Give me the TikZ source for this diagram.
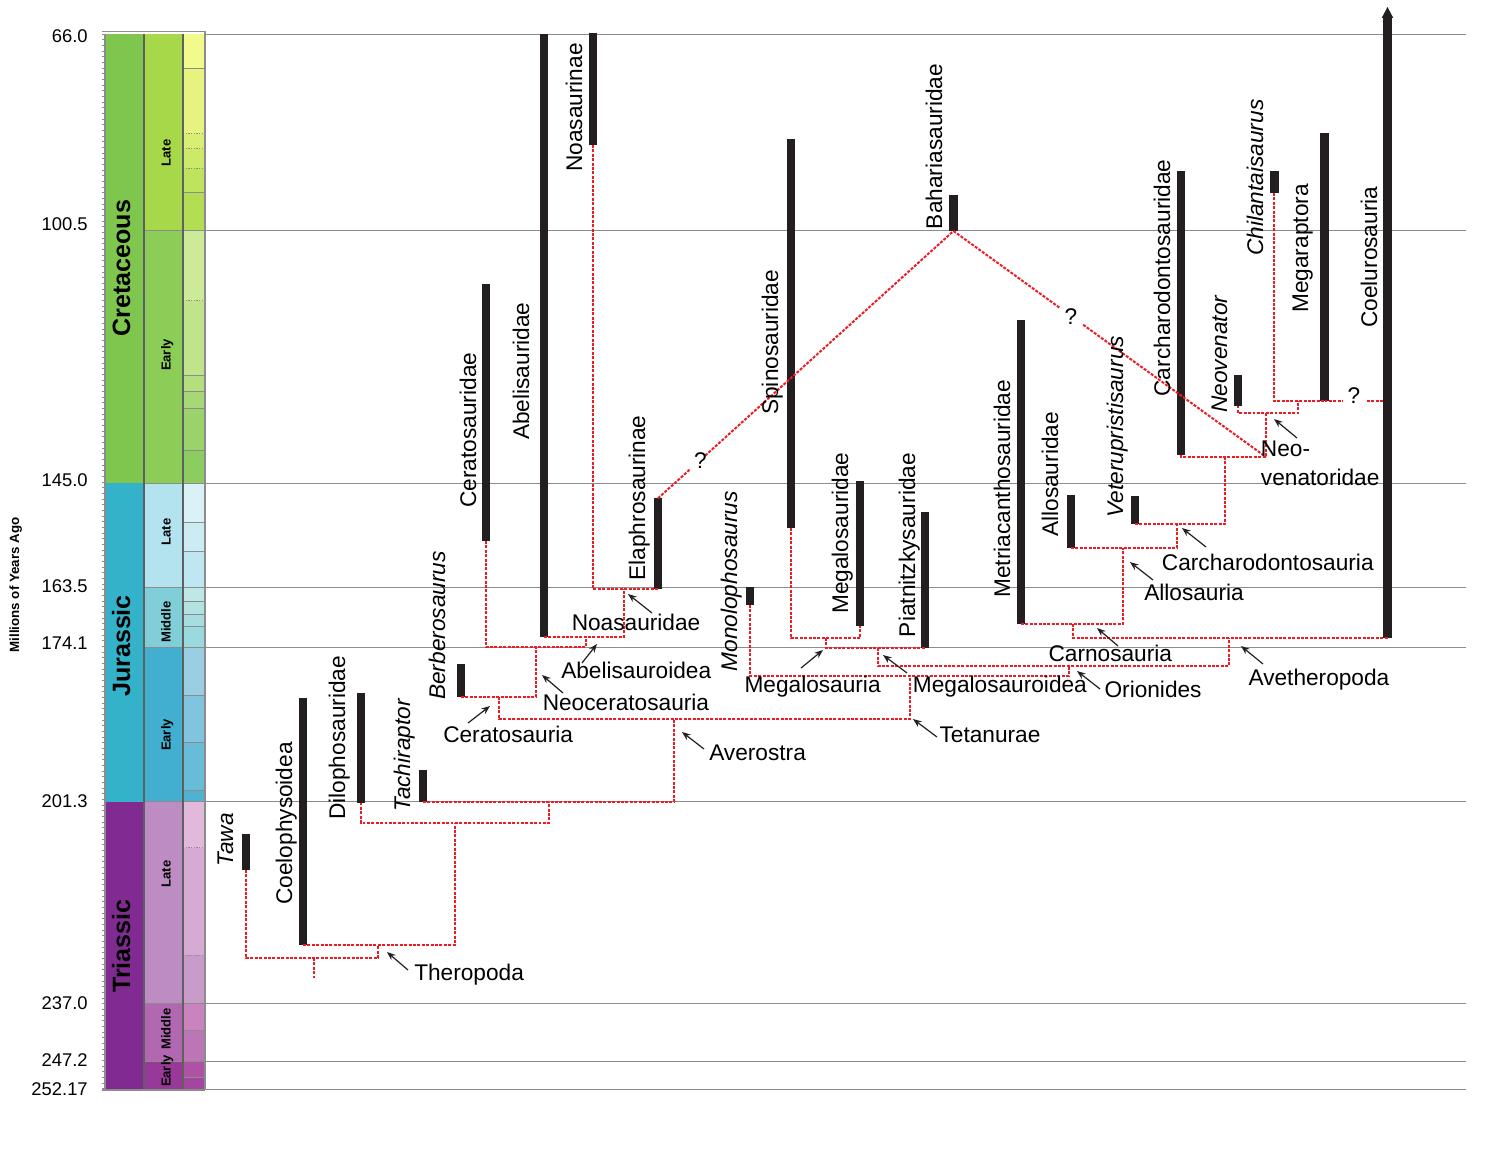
\documentclass[tikz,border=0pt]{standalone}
\usepackage{fontspec}
\setmainfont{Liberation Sans}
\usetikzlibrary{arrows.meta,calc}
\definecolor{barc}{HTML}{231F20}
\definecolor{treered}{HTML}{ED1C24}
\definecolor{gridc}{HTML}{8C8C8C}
\definecolor{sepc}{HTML}{5E5F61}
\definecolor{cret}{HTML}{7FC64E}
\definecolor{jur}{HTML}{34B2C9}
\definecolor{tri}{HTML}{812B92}
\definecolor{lK}{HTML}{A6D84A}
\definecolor{eK}{HTML}{8CCD57}
\definecolor{lJ}{HTML}{B3E3EE}
\definecolor{mJ}{HTML}{80CFD8}
\definecolor{eJ}{HTML}{42AED0}
\definecolor{lT}{HTML}{BD8CC3}
\definecolor{mT}{HTML}{B168B1}
\definecolor{eT}{HTML}{983999}
\newcommand\stagebox[3]{\definecolor{tmpstage}{HTML}{#3}\fill[tmpstage] (183,#1) rectangle (205,#2);}
\newcommand\taxbar[4]{\fill[barc] (#2-4.4,#3) rectangle (#2+4.4,#4);\coordinate (#1) at (#2,#4);\coordinate (#1-top) at (#2,#3);}
\begin{document}
\begin{tikzpicture}[x=0.75pt,y=-0.75pt,
  tree/.style={draw=treered, line width=1.5pt, dash pattern=on 2.2pt off 1.1pt},
  gridl/.style={draw=gridc, line width=0.75pt},
  stl/.style={draw=gridc, line width=0.6pt},
  stld/.style={draw=gridc, line width=0.6pt, dash pattern=on 1pt off 1pt},
  lab/.style={font=\fontsize{17}{20}\selectfont, inner sep=0pt, text=black},
  vlab/.style={lab, rotate=90, anchor=base west},
  hlab/.style={lab, anchor=base west},
  qlab/.style={lab, anchor=base},
  ptr/.style={draw=barc, line width=0.9pt, -{Stealth[length=6.5pt,width=5pt]}},
  num/.style={font=\fontsize{13.8}{16}\selectfont, inner sep=0pt, anchor=base east},
  period/.style={font=\bfseries\fontsize{18.8}{22}\selectfont, rotate=90, anchor=base, inner sep=0pt},
  epoch/.style={font=\bfseries\fontsize{9.8}{12}\selectfont, rotate=90, anchor=base, inner sep=0pt},
]
\fill[white] (0,0) rectangle (1511,1167);
\useasboundingbox (0,0) rectangle (1511,1167);

% ---------------- time scale ----------------
\fill[cret] (105,34) rectangle (144,483);
\fill[jur] (105,483) rectangle (144,801.5);
\fill[tri] (105,801.5) rectangle (144,1090);
\fill[lK] (144,34) rectangle (183,230);
\fill[eK] (144,230) rectangle (183,483);
\fill[lJ] (144,483) rectangle (183,587);
\fill[mJ] (144,587) rectangle (183,647.5);
\fill[eJ] (144,647.5) rectangle (183,801.5);
\fill[lT] (144,801.5) rectangle (183,1003.5);
\fill[mT] (144,1003.5) rectangle (183,1061);
\fill[eT] (144,1061) rectangle (183,1090);
\stagebox{34}{68.3}{F2FA8C}
\stagebox{68.3}{133.8}{E6F47F}
\stagebox{133.8}{148.5}{D9EF74}
\stagebox{148.5}{168.3}{CCE968}
\stagebox{168.3}{192.3}{BFE35D}
\stagebox{192.3}{230}{B3DE53}
\stagebox{230}{300.5}{CCEA97}
\stagebox{300.5}{375.7}{BFE48A}
\stagebox{375.7}{391.8}{B3DF7F}
\stagebox{391.8}{407.9}{A6D975}
\stagebox{407.9}{450.8}{99D36A}
\stagebox{450.8}{483}{8CCD60}
\stagebox{483}{522.4}{D9F1F7}
\stagebox{522.4}{551.5}{CCECF4}
\stagebox{551.5}{587}{BFE7F1}
\stagebox{587}{601.5}{BFE7E5}
\stagebox{601.5}{614}{B3E2E3}
\stagebox{614}{626}{A6DDE0}
\stagebox{626}{647.5}{9AD9DD}
\stagebox{647.5}{695.6}{99CEE3}
\stagebox{695.6}{742}{80C5DD}
\stagebox{742}{790}{67BCD8}
\stagebox{790}{801.5}{4EB3D3}
\stagebox{801.5}{847.7}{E3B9DB}
\stagebox{847.7}{955}{D6AAD3}
\stagebox{955}{1003.5}{C99BCB}
\stagebox{1003.5}{1030}{C983BF}
\stagebox{1030}{1061}{BC75B7}
\stagebox{1061}{1077}{B051A5}
\stagebox{1077}{1090}{A4469F}
% stage lines
\foreach \yy in {68.3,192.3,375.7,391.8,407.9,450.8,522.4,551.5,601.5,614,626,695.6,742,790,1030,1077}
  \draw[stl] (183,\yy) -- (205,\yy);
\foreach \yy in {133.8,148.5,168.3,300.5,847.7,955}
  \draw[stld] (183,\yy) -- (205,\yy);
% epoch lines
\foreach \yy in {230,483,587,647.5,801.5,1003.5,1061}
  \draw[stl] (144,\yy) -- (205,\yy);
% column separators and frame
\draw[sepc, line width=0.8pt] (144,34) -- (144,1090);
\draw[sepc, line width=0.8pt] (183,34) -- (183,1090);
\draw[gridc, line width=0.8pt] (105,34) -- (105,1090);
\draw[gridc, line width=0.9pt] (205,31) -- (205,1090);
\draw[gridc, line width=0.8pt] (102,31.5) -- (205,31.5);
\draw[gridc, line width=0.8pt] (102,1090) -- (205,1090);
\foreach \i in {0,...,186}
  \draw[gridc, line width=0.5pt] (101.5,34+\i*5.67) -- (105,34+\i*5.67);

% horizontal boundary lines
\foreach \yy in {34.5,230.5,483.5,587.5,647.5,801.5,1003.5,1061.5,1089.5}
  \draw[gridl] (205,\yy) -- (1466,\yy);

% time labels
\node[num] (t1) at (88,42.7) {66.0};
\node[num] (t2) at (88,230) {100.5};
\node[num] (t3) at (88,486) {145.0};
\node[num] (t4) at (88,592) {163.5};
\node[num] (t5) at (88,649) {174.1};
\node[num] (t6) at (88,807) {201.3};
\node[num] (t7) at (88,1009) {237.0};
\node[num] (t8) at (88,1066) {247.2};
\node[num] (t9) at (88,1095) {252.17};
\node[font=\bfseries\fontsize{10}{12}\selectfont, rotate=90, anchor=base, inner sep=0pt] (yt) at (19,585) {Millions of Years Ago};
\node[period] (pK) at (130,268) {Cretaceous};
\node[period] (pJ) at (130,646) {Jurassic};
\node[period] (pT) at (130,946) {Triassic};
\node[epoch] (e1) at (170.5,153) {Late};
\node[epoch] (e2) at (170.5,355) {Early};
\node[epoch] (e3) at (170.5,532) {Late};
\node[epoch] (e4) at (170.5,622) {Middle};
\node[epoch] (e5) at (170.5,735) {Early};
\node[epoch] (e6) at (170.5,874) {Late};
\node[epoch] (e7) at (170.5,1029) {Middle};
\node[epoch] (e8) at (170.5,1071) {Early};

% ---------------- taxon bars ----------------
\taxbar{tawa}{246}{834}{870}
\taxbar{coel}{303}{698.3}{945}
\taxbar{dilo}{361}{692.7}{802.5}
\taxbar{tachi}{423}{770}{802}
\taxbar{berb}{461}{664}{697}
\taxbar{cerat}{486}{284}{541}
\taxbar{abel}{544}{34}{637}
\taxbar{noas}{593}{32.7}{145}
\taxbar{elaph}{658}{498.3}{589}
\taxbar{mono}{750}{587.3}{605}
\taxbar{spino}{791}{139}{528}
\taxbar{megsd}{860}{481}{626}
\taxbar{piat}{925}{512}{648}
\taxbar{bahar}{953.5}{195}{231}
\taxbar{metria}{1021}{320}{624}
\taxbar{allsd}{1071}{495}{548}
\taxbar{veteru}{1135}{496}{524}
\taxbar{carch}{1181}{171}{455}
\taxbar{neoven}{1238}{375}{405.5}
\taxbar{chilan}{1274.5}{171}{193}
\taxbar{megarap}{1324.5}{133}{401}
\taxbar{coelu}{1387.5}{17.5}{638}
\fill[barc] (1381.8,17.8) -- (1393.2,17.8) -- (1387.5,7) -- cycle;
\coordinate (chilanB) at (1274,193);

% ---------------- tree junctions ----------------
\coordinate (thA) at (378,958);
\coordinate (thB) at (378,945);
\coordinate (root) at (314,958);
\coordinate (rootEnd) at (314,978);
\coordinate (ntA) at (455,945);
\coordinate (ntB) at (455,823);
\coordinate (nt2A) at (549,823);
\coordinate (nt2B) at (549,802);
\coordinate (avA) at (674,802);
\coordinate (avB) at (674,719);
\coordinate (cerJ) at (499,697);
\coordinate (tetA) at (910,719);
\coordinate (tetB) at (910,676);
\coordinate (neoA) at (536,697);
\coordinate (neoB) at (536,647);
\coordinate (abA) at (586,647);
\coordinate (abB) at (586,637);
\coordinate (noA) at (624,637);
\coordinate (noB) at (624,589);
\coordinate (orA) at (1069,676);
\coordinate (orB) at (1069,666);
\coordinate (mlA) at (878,648);
\coordinate (avtA) at (1229,666);
\coordinate (avtB) at (1229,638);
\coordinate (msA) at (860,638);
\coordinate (msJ) at (826,638);
\coordinate (carnJ) at (1073,624);
\coordinate (alA) at (1123,624);
\coordinate (alB) at (1123,548);
\coordinate (caA) at (1177,548);
\coordinate (caB) at (1177,524);
\coordinate (cdA) at (1225,524);
\coordinate (cdB) at (1225,457);
\coordinate (nvA) at (1266,457);
\coordinate (nvB) at (1266,413);
\coordinate (mgA) at (1298,413);
\coordinate (mgB) at (1298,401);
\coordinate (q3a) at (1343,401);
\coordinate (q3b) at (1367,401);
\coordinate (coeluL) at (1383,401);

\draw[tree] (tawa) |- (thA) -- (thB);
\draw[tree] (root) -- (rootEnd);
\draw[tree] (coel) |- (ntA) -- (ntB);
\draw[tree] (dilo) |- (nt2A) -- (nt2B);
\draw[tree] (tachi) |- (avA) -- (avB);
\draw[tree] (cerJ) |- (tetA) -- (tetB);
\draw[tree] (berb) |- (neoA) -- (neoB);
\draw[tree] (cerat) |- (abA) -- (abB);
\draw[tree] (abel) |- (noA) -- (noB);
\draw[tree] (noas) |- (elaph);
\draw[tree] (mono) |- (orA) -- (orB);
\draw[tree] (mlA) |- (avtA) -- (avtB);
\draw[tree] (spino) |- (msA) -- (megsd);
\draw[tree] (msJ) |- (piat);
\draw[tree] (carnJ) |- (coelu);
\draw[tree] (metria) |- (alA) -- (alB);
\draw[tree] (allsd) |- (caA) -- (caB);
\draw[tree] (veteru) |- (cdA) -- (cdB);
\draw[tree] (carch) |- (nvA) -- (nvB);
\draw[tree] (neoven) |- (mgA) -- (mgB);
\draw[tree] (chilanB) |- (megarap);
\draw[tree] (megarap) -- (q3a);
\draw[tree] (q3b) -- (coeluL);
\draw[tree] (elaph-top) -- ($(elaph-top)!0.108!(bahar)$);
\draw[tree] ($(elaph-top)!0.16!(bahar)$) -- (bahar);
\draw[tree] (bahar) -- ($(bahar)!0.34!(nvA)$);
\draw[tree] ($(bahar)!0.415!(nvA)$) -- (nvA);
\node[qlab] (q1) at (700.5,468) {?};
\node[qlab] (q2) at (1071,324) {?};
\node[qlab] (q3) at (1354,403) {?};

% ---------------- taxon labels ----------------
\node[vlab] (L-tawa) at (233,867) {\itshape Tawa};
\node[vlab] (L-coel) at (292,905) {Coelophysoidea};
\node[vlab] (L-dilo) at (345,820) {Dilophosauridae};
\node[vlab] (L-tachi) at (410,812) {\itshape Tachiraptor};
\node[vlab] (L-berb) at (445,700) {\itshape Berberosaurus};
\node[vlab] (L-cerat) at (476,508) {Ceratosauridae};
\node[vlab] (L-abel) at (529,440) {Abelisauridae};
\node[vlab] (L-noas) at (582,172) {Noasaurinae};
\node[vlab] (L-elaph) at (645,580.7) {Elaphrosaurinae};
\node[vlab] (L-mono) at (737,671.7) {\itshape Monolophosaurus};
\node[vlab] (L-spino) at (778,415) {Spinosauridae};
\node[vlab] (L-megsd) at (848,614) {Megalosauridae};
\node[vlab] (L-piat) at (915,637.3) {Piatnitzkysauridae};
\node[vlab] (L-bahar) at (942,229.3) {Bahariasauridae};
\node[vlab] (L-metria) at (1010,598) {Metriacanthosauridae};
\node[vlab] (L-allsd) at (1058,537) {Allosauridae};
\node[vlab] (L-veteru) at (1123,518) {\itshape Veterupristisaurus};
\node[vlab] (L-carch) at (1170,396.7) {Carcharodontosauridae};
\node[vlab] (L-neoven) at (1227,413) {\itshape Neovenator};
\node[vlab] (L-chilan) at (1263,256) {\itshape Chilantaisaurus};
\node[vlab] (L-megarap) at (1308,313) {Megaraptora};
\node[vlab] (L-coelu) at (1377,328) {Coelurosauria};

% ---------------- clade labels with pointers ----------------
\node[hlab] (C-thero) at (414,980) {Theropoda};
\node[hlab] (C-cera) at (443,742.5) {Ceratosauria};
\node[hlab] (C-neoc) at (542.5,710.5) {Neoceratosauria};
\node[hlab] (C-abel) at (561,678.3) {Abelisauroidea};
\node[hlab] (C-noas) at (571.5,630.7) {Noasauridae};
\node[hlab] (C-aver) at (709,760) {Averostra};
\node[hlab] (C-mgsa) at (744.3,692.7) {Megalosauria};
\node[hlab] (C-mgsd) at (912.7,692.7) {Megalosauroidea};
\node[hlab] (C-teta) at (939.3,742.7) {Tetanurae};
\node[hlab] (C-orio) at (1104.3,697.5) {Orionides};
\node[hlab] (C-carn) at (1048.3,661.7) {Carnosauria};
\node[hlab] (C-avet) at (1248.3,685) {Avetheropoda};
\node[hlab] (C-allo) at (1144,600.7) {Allosauria};
\node[hlab] (C-carc) at (1161.7,570) {Carcharodontosauria};
\node[hlab] (C-neov1) at (1260.7,456.7) {Neo-};
\node[hlab] (C-neov2) at (1260.7,485) {venatoridae};

\coordinate (a1t) at (408,970);   \coordinate (a1h) at (387,952);
\coordinate (a2t) at (468,723);   \coordinate (a2h) at (490,706);
\coordinate (a3t) at (563,693);   \coordinate (a3h) at (542,675);
\coordinate (a4t) at (582,663);   \coordinate (a4h) at (597,644);
\coordinate (a5t) at (652,613);   \coordinate (a5h) at (628,594);
\coordinate (a6t) at (704,749);   \coordinate (a6h) at (682,732);
\coordinate (a7t) at (801,668);   \coordinate (a7h) at (823,650);
\coordinate (a8t) at (907,673);   \coordinate (a8h) at (883,655);
\coordinate (a9t) at (937,737);   \coordinate (a9h) at (913,719);
\coordinate (a10t) at (1100,689); \coordinate (a10h) at (1077,671);
\coordinate (a11t) at (1118,646); \coordinate (a11h) at (1097,628);
\coordinate (a12t) at (1263,664); \coordinate (a12h) at (1241,646);
\coordinate (a13t) at (1153,580); \coordinate (a13h) at (1130,562);
\coordinate (a14t) at (1206,547); \coordinate (a14h) at (1182,528);
\coordinate (a15t) at (1297,438); \coordinate (a15h) at (1274,419);
\foreach \k in {1,...,15} \draw[ptr] (a\k t) -- (a\k h);
\end{tikzpicture}
\end{document}
